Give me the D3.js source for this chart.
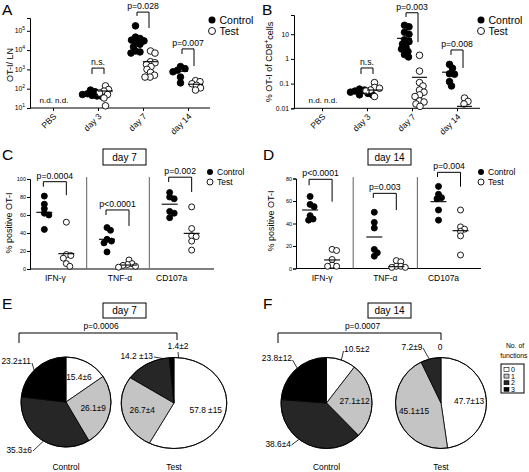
<!DOCTYPE html>
<html><head><meta charset="utf-8">
<script src="https://cdn.jsdelivr.net/npm/d3@7"></script>
<style>
body{margin:0;background:#fff}
svg{display:block}
text{font-family:"Liberation Sans",Arial,Helvetica,sans-serif;fill:#000}
</style>
</head><body>
<svg id="c" width="529" height="472"></svg>
<script>
// ---------------- DATA ----------------
const daysAB = ["PBS", "day 3", "day 7", "day 14"];
// Panel A: OT-I per LN
const aControl = [[], [85, 70, 55, 50, 45, 42, 40], [180000, 47000, 40000, 33000, 30000, 25000, 20000, 15000, 9000, 8000, 7000], [1400, 1100, 900, 750, 400, 200]];
const aTest = [[], [140, 90, 75, 60, 50, 33, 13], [9000, 7000, 2500, 2200, 1800, 1400, 1000, 700, 500, 400, 400], [260, 230, 180, 150, 110, 85]];
const aMeanControl = [null, 51, 33000, 800];
const aMeanTest = [null, 76, 2500, 170];
const aP = ["", "n.s.", "p=0.028", "p=0.007"];
const aBracket = [null, [1170, 580, 580], [930000, 590000, 140000], [11500, 6300, 1500]]; // [top, left end, right end]
const aTicks = [10, 100, 1000, 10000, 100000];
// Panel B: % OT-I of CD8+
const bControl = [[], [0.06, 0.055, 0.05, 0.045, 0.04, 0.035, 0.035], [23, 20, 12, 10, 6, 5, 4, 3, 2.5, 2, 1.5, 1.2], [0.6, 0.42, 0.25, 0.24, 0.12, 0.08]];
const bTest = [[], [0.11, 0.07, 0.065, 0.055, 0.05, 0.03], [1.4, 0.32, 0.11, 0.08, 0.055, 0.045, 0.035, 0.03, 0.02, 0.018, 0.015, 0.012], [0.026, 0.019, 0.015]];
const bMeanControl = [null, 0.041, 6.8, 0.29];
const bMeanTest = [null, 0.055, 0.18, 0.012];
const bP = ["", "n.s.", "p=0.003", "p=0.008"];
const bBracket = [null, [0.43, 0.245, 0.245], [74, 50, 4.8], [2.3, 1.45, 0.43]];
const bTicks = [0.01, 0.1, 1, 10];
const bTickLabels = ["0.01", "0.1", "1", "10"];
// Panels C / D: % positive OT-I
const cytokines = ["IFN-γ", "TNF-α", "CD107a"];
const cControl = [[81, 72, 67, 62, 60, 44], [46, 43, 33, 31, 29, 19], [85, 80, 78, 64, 62, 57]];
const cTest = [[52, 16, 15, 12, 6, 3], [10, 6, 5, 4, 3, 2], [69, 45, 37, 36, 31, 21]];
const cMeanControl = [63, 33, 72];
const cMeanTest = [17, 4.4, 39.6];
const cP = ["p=0.0004", "p<0.0001", "p=0.002"];
const cBracket = [[97, 91.4, 82], [65.6, 60, 47.8], [102, 96.7, 85.6]];
const cTicks = [0, 20, 40, 60, 80, 100];
const dControl = [[64, 57, 55, 47, 44, 43], [50, 41, 36, 17, 14, 11], [73, 66, 63, 62, 52, 43]];
const dTest = [[17, 16, 8, 3, 2, 2], [7, 6, 2, 1, 2, 1], [52, 37, 35, 33, 29, 12]];
const dMeanControl = [52, 28, 59.4];
const dMeanTest = [7.6, 1.6, 33.6];
const dP = ["p<0.0001", "p=0.003", "p=0.004"];
const dBracket = [[79.3, 74, 59.4], [66.8, 62.7, 52], [85.5, 81.3, 72.7]];
const dTicks = [0, 20, 40, 60, 80];
// Panels E / F: number of functions (pie)
const funcCats = ["0", "1", "2", "3"];
const eControl = [15.4, 26.1, 35.3, 23.2];
const eControlLabels = ["15.4±6", "26.1±9", "35.3±6", "23.2±11"];
const eTest = [57.8, 26.7, 14.2, 1.4];
const eTestLabels = ["57.8 ±15", "26.7±4", "14.2 ±13", "1.4±2"];
const fControl = [10.5, 27.1, 38.6, 23.8];
const fControlLabels = ["10.5±2", "27.1±12", "38.6±4", "23.8±12"];
const fTest = [47.7, 45.1, 7.2, 0];
const fTestLabels = ["47.7±13", "45.1±15", "7.2±9", "0"];
const ePValue = "p=0.0006";
const fPValue = "p=0.0007";

// ---------------- DRAWING ----------------
const svg = d3.select("#c");
const pieColor = d3.scaleOrdinal().domain(funcCats).range(["#ffffff", "#c4c4c4", "#262626", "#000000"]);

function text(g, x, y, s, size, anchor) {
  return g.append("text").attr("x", x).attr("y", y).attr("font-size", size)
    .attr("text-anchor", anchor || "middle").text(s);
}
function line(g, x1, y1, x2, y2, w, col) {
  return g.append("line").attr("x1", x1).attr("y1", y1).attr("x2", x2).attr("y2", y2)
    .attr("stroke", col || "#000").attr("stroke-width", w || 1);
}
function swarm(vals, cx, y, minD) {
  const pts = vals.map(v => ({ v, y: y(v) })).sort((a, b) => a.y - b.y);
  const placed = [];
  pts.forEach(p => {
    let best = null;
    for (let k = 0; k < 60 && best === null; k++) {
      const offs = k === 0 ? [0] : [k * 0.5, -k * 0.5];
      for (const o of offs) {
        if (placed.every(q => Math.hypot(q.x - (cx + o), q.y - p.y) >= minD)) { best = o; break; }
      }
    }
    p.x = cx + (best || 0);
    placed.push(p);
  });
  return placed;
}
function dots(g, vals, cx, y, r, filled, minD) {
  g.selectAll(null).data(swarm(vals, cx, y, minD)).join("circle")
    .attr("cx", d => d.x).attr("cy", d => d.y).attr("r", r)
    .attr("fill", filled ? "#000" : "#fff").attr("stroke", "#000").attr("stroke-width", 0.9);
}
function bracket(g, x1, x2, yTop, yL, yR, label) {
  g.append("path").attr("d", `M${x1},${yL}V${yTop}H${x2}V${yR}`)
    .attr("fill", "none").attr("stroke", "#000").attr("stroke-width", 1);
  if (label) text(g, (x1 + x2) / 2, yTop - 3, label, 8.7);
}
function legend(g, x, y1, y2, r, size) {
  g.append("circle").attr("cx", x).attr("cy", y1).attr("r", r).attr("fill", "#000");
  g.append("circle").attr("cx", x).attr("cy", y2).attr("r", r).attr("fill", "#fff").attr("stroke", "#000").attr("stroke-width", 0.9);
  text(g, x + r + 4, y1, "Control", size, "start").attr("dy", "0.35em");
  text(g, x + r + 4, y2, "Test", size, "start").attr("dy", "0.35em");
}
function panelLabel(x, y, s) {
  text(svg, x, y, s, 15.5, "start");
}
function dayBox(x, y, w, h, s) {
  svg.append("rect").attr("x", x).attr("y", y).attr("width", w).attr("height", h)
    .attr("fill", "#fff").attr("stroke", "#000").attr("stroke-width", 1);
  text(svg, x + w / 2, y + h / 2, s, 10).attr("dy", "0.35em");
}

// ---- Log scatter panels (A, B) ----
function logPanel(cfg) {
  const g = svg.append("g");
  const x = d3.scalePoint().domain(daysAB).range(cfg.xr);
  const y = d3.scaleLog().domain(cfg.yd).range(cfg.yr);
  const ya = g.append("g").attr("transform", `translate(${cfg.x0},0)`)
    .call(d3.axisLeft(y).tickValues(cfg.ticks).tickFormat("").tickSize(3));
  ya.selectAll("path,line").attr("stroke", "#000");
  cfg.ticks.forEach((t, i) => {
    const tx = g.append("text").attr("x", cfg.x0 - 5).attr("y", y(t)).attr("dy", "0.35em")
      .attr("font-size", 6.8).attr("text-anchor", "end");
    if (cfg.super) {
      tx.append("tspan").text("10");
      tx.append("tspan").attr("font-size", 5).attr("dy", "-0.6em").text(Math.round(Math.log10(t)));
    } else tx.text(cfg.tickLabels[i]);
  });
  const yb = cfg.yr[0];
  line(g, cfg.x0, yb, cfg.x1, yb, 1);
  const xa = g.append("g").attr("transform", `translate(0,${yb})`)
    .call(d3.axisBottom(x).tickFormat("").tickSize(3));
  xa.select(".domain").remove();
  xa.selectAll("line").attr("stroke", "#000");
  daysAB.forEach(d => {
    g.append("text").attr("font-size", 8.5).attr("text-anchor", "end")
      .attr("transform", `translate(${x(d) + 4},${yb + 9}) rotate(-45)`).text(d);
  });
  text(g, x(daysAB[0]) + 1, yb - 5, "n.d. n.d.", 8);
  const yl = g.append("text").attr("font-size", 9).attr("text-anchor", "middle")
    .attr("transform", `translate(${cfg.ylx},${cfg.yly}) rotate(-90)`);
  cfg.ylab(yl);
  const off = 7.5;
  daysAB.forEach((d, i) => {
    if (!cfg.ctrl[i].length) return;
    const cx = x(d);
    dots(g, cfg.ctrl[i], cx - off, y, 3.3, true, 4.6);
    dots(g, cfg.test[i], cx + off, y, 3.3, false, 4.6);
    line(g, cx - 2 * off, y(cfg.mc[i]), cx, y(cfg.mc[i]), 1.1);
    line(g, cx, y(cfg.mt[i]), cx + 2 * off, y(cfg.mt[i]), 1.1);
    const b = cfg.br[i];
    bracket(g, cx - 6, cx + 6, y(b[0]), y(b[1]), y(b[2]), cfg.p[i]);
  });
  legend(g, cfg.legX, 20, 31, 3.5, 10.5);
}

logPanel({
  xr: [53, 188], x0: 30, x1: 210, yd: [10, 4.6e5], yr: [108, 18], ticks: aTicks, super: true,
  ctrl: aControl, test: aTest, mc: aMeanControl, mt: aMeanTest, p: aP, br: aBracket,
  ylx: 13, yly: 65, ylab: t => t.text("OT-I/ LN"), legX: 212
});
logPanel({
  xr: [322, 457], x0: 294, x1: 480, yd: [0.01, 60], yr: [108.3, 15], ticks: bTicks, super: false, tickLabels: bTickLabels,
  ctrl: bControl, test: bTest, mc: bMeanControl, mt: bMeanTest, p: bP, br: bBracket,
  ylx: 272, yly: 62, ylab: t => { t.append("tspan").text("% OT-I of CD8"); t.append("tspan").attr("font-size", 7).attr("dy", "-0.5em").text("+"); t.append("tspan").attr("dy", "0.5em").text("cells"); },
  legX: 481
});

// ---- Linear scatter panels (C, D) ----
function linPanel(cfg) {
  const g = svg.append("g");
  const x = d3.scaleBand().domain(cytokines).range(cfg.xr);
  const y = d3.scaleLinear().domain(cfg.yd).range(cfg.yr);
  const ya = g.append("g").attr("transform", `translate(${cfg.x0},0)`)
    .call(d3.axisLeft(y).tickValues(cfg.ticks).tickSize(3));
  ya.selectAll("path,line").attr("stroke", "#000");
  ya.selectAll("text").attr("font-size", 5.5).attr("font-family", null).attr("x", -4);
  line(g, cfg.x0, cfg.yr[0], cfg.x1, cfg.yr[0], 1);
  cytokines.slice(1).forEach(c => line(g, x(c), cfg.yr[0], x(c), cfg.sepTop, 1.1, "#6e6e6e"));
  cytokines.forEach((c, i) => {
    const cc = x(c) + x.bandwidth() / 2;
    text(g, cc + cfg.labOff[i], cfg.yr[0] + 12, c, 8.5);
    const xc = cc - 11, xt = cc + 11;
    dots(g, cfg.ctrl[i], xc, y, 3, true, 4.4);
    dots(g, cfg.test[i], xt, y, 3, false, 4.4);
    line(g, xc - 8, y(cfg.mc[i]), xc + 8, y(cfg.mc[i]), 1.1);
    line(g, xt - 8, y(cfg.mt[i]), xt + 8, y(cfg.mt[i]), 1.1);
    const b = cfg.br[i];
    bracket(g, xc - 1, xt, y(b[0]), y(b[1]), y(b[2]), cfg.p[i]);
  });
  g.append("text").attr("font-size", 9).attr("text-anchor", "middle")
    .attr("transform", `translate(${cfg.ylx},${cfg.yly}) rotate(-90)`).text("% positive OT-I");
  legend(g, cfg.legX, 172, 182, 3, 8.5);
}
linPanel({
  xr: [24, 212], x0: 30, x1: 214, yd: [0, 100], yr: [269, 179], ticks: cTicks, sepTop: 177,
  ctrl: cControl, test: cTest, mc: cMeanControl, mt: cMeanTest, p: cP, br: cBracket,
  labOff: [0, 2, -9], ylx: 12, yly: 223, legX: 210
});
linPanel({
  xr: [289, 481.6], x0: 296, x1: 481, yd: [0, 80], yr: [268.5, 178.5], ticks: dTicks, sepTop: 177,
  ctrl: dControl, test: dTest, mc: dMeanControl, mt: dMeanTest, p: dP, br: dBracket,
  labOff: [1, 0, -6], ylx: 274, yly: 221, legX: 481
});

// ---- Pie panels (E, F) ----
const pieGen = d3.pie().sort(null).value(d => d);
function drawPie(cx, cy, R, sx, vals, labels, outer, caption) {
  const g = svg.append("g");
  const pg = g.append("g").attr("transform", `translate(${cx},${cy}) scale(${sx},1)`);
  const arcs = pieGen(vals);
  const arc = d3.arc().innerRadius(0).outerRadius(R);
  pg.selectAll(null).data(arcs.filter(a => a.data > 0)).join("path")
    .attr("d", arc).attr("fill", d => pieColor(funcCats[d.index]))
    .attr("stroke", "#000").attr("stroke-width", 0.8).attr("vector-effect", "non-scaling-stroke");
  pg.append("circle").attr("r", R).attr("fill", "none").attr("stroke", "#000")
    .attr("stroke-width", 0.9).attr("vector-effect", "non-scaling-stroke");
  const lab = d3.arc().innerRadius(R * 0.62).outerRadius(R * 0.62);
  arcs.forEach((a, i) => {
    const o = outer.find(e => e.i === i);
    if (!o) {
      const [lx, ly] = lab.centroid(a);
      text(g, cx + lx * sx, cy + ly, labels[i], 8.4).attr("dy", "0.35em");
    } else {
      text(g, cx + o.tx, cy + o.ty, labels[i], 8.4, o.anchor);
      if (o.edge !== undefined) {
        const t = o.edge * Math.PI / 180;
        line(g, cx + o.lx, cy + o.ly, cx + Math.sin(t) * R * sx, cy - Math.cos(t) * R, 0.8);
      }
    }
  });
  text(g, cx, 470, caption, 8.4);
}
function pBracket(x1, x2, p) {
  svg.append("path").attr("d", `M${x1},343V333H${x2}V340`).attr("fill", "none").attr("stroke", "#000").attr("stroke-width", 1);
  text(svg, (x1 + x2) / 2 + 3, 329, p, 8.4);
}

drawPie(66, 402, 45, 1, eControl, eControlLabels, [
  { i: 3, tx: -35, ty: -38, anchor: "end", lx: -34, ly: -39, edge: 315 },
  { i: 2, tx: -34, ty: 51, anchor: "end", lx: -33, ly: 49, edge: 210 }
], "Control");
drawPie(174, 403, 45.5, 1.16, eTest, eTestLabels, [
  { i: 2, tx: -21, ty: -44, anchor: "end", lx: -20, ly: -46, edge: 348 },
  { i: 3, tx: 4, ty: -54, anchor: "middle", lx: 4, ly: -51, edge: 5 }
], "Test");
pBracket(19, 177, ePValue);

drawPie(326.5, 403, 45.5, 1, fControl, fControlLabels, [
  { i: 0, tx: 17.5, ty: -51, anchor: "start", lx: 17, ly: -52, edge: 19 },
  { i: 3, tx: -34.5, ty: -42, anchor: "end", lx: -34, ly: -43, edge: 320 },
  { i: 2, tx: -35.5, ty: 44, anchor: "end", lx: -35, ly: 42, edge: 217 }
], "Control");
drawPie(441, 403, 45.5, 1, fTest, fTestLabels, [
  { i: 2, tx: -29, ty: -53, anchor: "middle", lx: -18, ly: -55, edge: 345 },
  { i: 3, tx: -1, ty: -53, anchor: "middle" }
], "Test");
pBracket(278, 441, fPValue);

// legend "No. of functions"
text(svg, 515, 348, "No. of", 6.8);
text(svg, 527.5, 358, "functions", 6.8, "end");
svg.append("rect").attr("x", 501).attr("y", 364).attr("width", 23).attr("height", 29)
  .attr("fill", "#fff").attr("stroke", "#000").attr("stroke-width", 1);
funcCats.forEach((c, i) => {
  const yy = 369.5 + i * 6.6;
  svg.append("rect").attr("x", 504).attr("y", yy - 2).attr("width", 5).attr("height", 4)
    .attr("fill", pieColor(c)).attr("stroke", "#000").attr("stroke-width", 0.6);
  text(svg, 511, yy, c, 7, "start").attr("dy", "0.35em");
});

dayBox(103, 149, 43, 16, "day 7");
dayBox(368, 149, 43, 16, "day 14");
dayBox(103, 303, 43, 15, "day 7");
dayBox(368, 303, 43, 15, "day 14");
panelLabel(2, 15, "A");
panelLabel(262, 15, "B");
panelLabel(2, 160, "C");
panelLabel(263, 160, "D");
panelLabel(2, 309, "E");
panelLabel(263, 309, "F");
</script>
</body></html>
